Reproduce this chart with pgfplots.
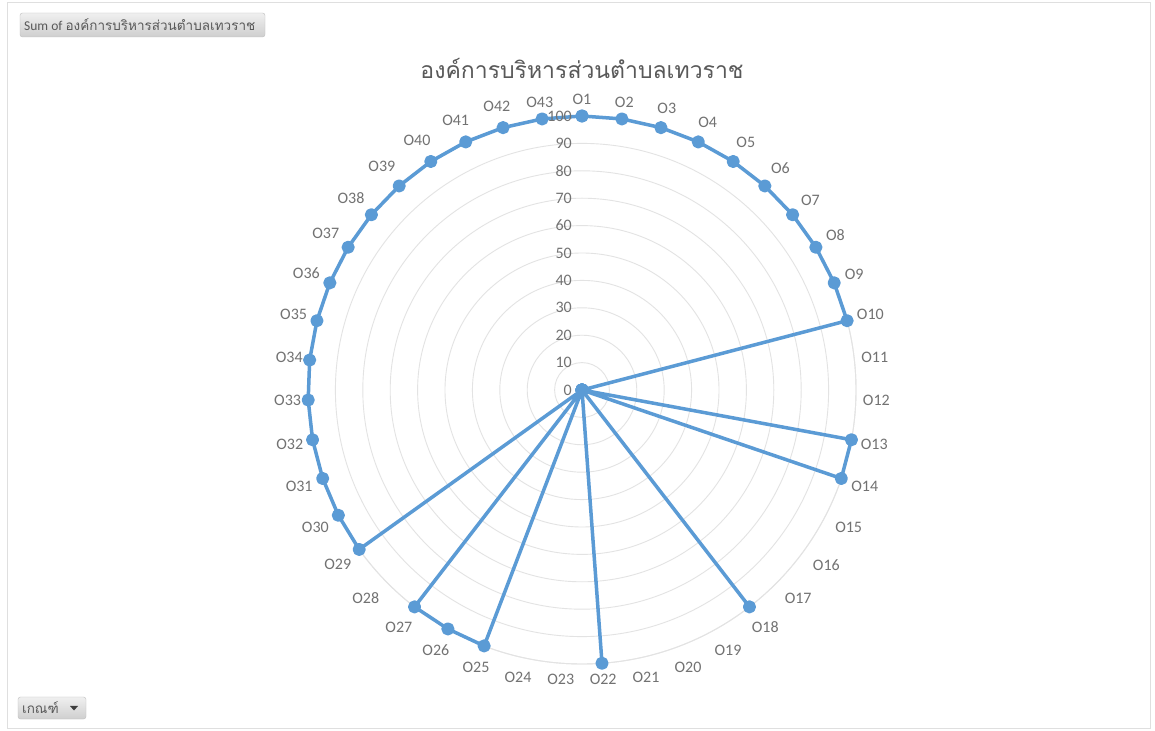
\documentclass[border=0pt]{standalone}
\usepackage{pgfplots}
\pgfplotsset{compat=1.18}
\usepgfplotslibrary{polar}
\usepackage{fontspec}
\setmainfont{Carlito}
\newfontfamily\thaifont[Script=Thai]{Loma}
\definecolor{series}{HTML}{5B9BD5}
\definecolor{txt}{HTML}{595959}
\definecolor{gridc}{HTML}{E3E3E3}

% angle (O1 at top, clockwise, 43 spokes) and value
\pgfplotstableread{
ang val
90 100
81.628 100
73.256 100
64.884 100
56.512 100
48.140 100
39.767 100
31.395 100
23.023 100
14.651 100
6.279 0
357.907 0
349.535 100
341.163 100
332.791 0
324.419 0
316.047 0
307.674 100
299.302 0
290.930 0
282.558 0
274.186 100
265.814 0
257.442 0
249.070 100
240.698 100
232.326 100
223.953 0
215.581 100
207.209 100
198.837 100
190.465 100
182.093 100
173.721 100
165.349 100
156.977 100
148.605 100
140.233 100
131.860 100
123.488 100
115.116 100
106.744 100
98.372 100
90 100
}\data

\begin{document}
\begin{tikzpicture}[x=1pt,y=1pt]
\useasboundingbox (0,0) rectangle (1155,730);
\fill[white] (0,0) rectangle (1155,730);
\draw[gray!25] (7.5,1.5) rectangle (1150.5,727.5);

% field buttons
\shade[top color=gray!12, bottom color=gray!38, draw=gray!50, rounded corners=2.5pt] (20,693) rectangle (265,717);
\node[anchor=west, text=txt, inner sep=0pt, font=\fontsize{13.5}{15}\selectfont] at (24,705) {Sum of {\thaifont องค์การบริหารส่วนตำบลเทวราช}};
\shade[top color=gray!12, bottom color=gray!38, draw=gray!50, rounded corners=2.5pt] (18,11) rectangle (86,33);
\node[anchor=west, text=txt, inner sep=0pt, font=\fontsize{13.5}{15}\thaifont] at (22,22) {เกณฑ์};
\fill[txt!70!black] (70,24) -- (78,24) -- (74,19.5) -- cycle;

% title
\node[text=txt, font=\fontsize{23}{26}\thaifont] at (582,662) {องค์การบริหารส่วนตำบลเทวราช};

\begin{polaraxis}[
    at={(582pt,340pt)}, anchor=center,
    scale only axis, width=548pt, height=548pt,
    ymin=0, ymax=100,
    ytick={0,10,...,100}, yticklabels={},
    xtick={90,81.628,73.256,64.884,56.512,48.140,39.767,31.395,23.023,14.651,6.279,357.907,349.535,341.163,332.791,324.419,316.047,307.674,299.302,290.930,282.558,274.186,265.814,257.442,249.070,240.698,232.326,223.953,215.581,207.209,198.837,190.465,182.093,173.721,165.349,156.977,148.605,140.233,131.860,123.488,115.116,106.744,98.372},
    xticklabels={O1,O2,O3,O4,O5,O6,O7,O8,O9,O10,O11,O12,O13,O14,O15,O16,O17,O18,O19,O20,O21,O22,O23,O24,O25,O26,O27,O28,O29,O30,O31,O32,O33,O34,O35,O36,O37,O38,O39,O40,O41,O42,O43},
    xticklabel style={text=txt!85, font=\fontsize{16}{18}\selectfont, inner xsep=7pt, inner ysep=11pt},
    major tick length=0pt,
    xmajorgrids=false, ymajorgrids=true,
    grid style={gridc, line width=0.9pt},
    axis line style={gridc, line width=0.9pt},
    y axis line style={draw=none},
    clip=false,
]
\addplot[series, line width=3.5pt, line join=round, mark=*, mark size=4.8pt,
    mark options={fill=series, draw=none}]
    table[x=ang, y=val] {\data};
\pgfplotsinvokeforeach{0,10,...,100}{
  \node[anchor=east, text=txt!85, font=\fontsize{16}{18}\selectfont, inner sep=0pt] at (axis cs:90,#1) [xshift=-10pt] {#1};
}
\end{polaraxis}
\end{tikzpicture}
\end{document}
